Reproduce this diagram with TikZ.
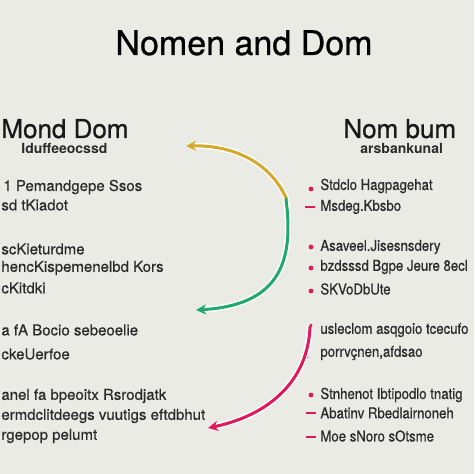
\documentclass[tikz,border=0pt]{standalone}
\usepackage{fontspec}
\setmainfont{TeX Gyre Heros}
\newfontfamily\heavy{TeX Gyre Heros}[FakeBold=0.8]
\newfontfamily\bodyfont{TeX Gyre Heros}[FakeBold=0.6]
\newfontfamily\narrowfont{TeX Gyre Heros}[FakeBold=0.6, FakeStretch=0.88]
\usepackage{tikz}
\usetikzlibrary{arrows.meta}
\definecolor{paper}{HTML}{EBEBE6}
\definecolor{ink}{HTML}{2B2B2B}
\definecolor{ochre}{HTML}{D4A92C}
\definecolor{leaf}{HTML}{1FAA6B}
\definecolor{rose}{HTML}{E0195C}

\begin{document}
\begin{tikzpicture}[x=0.5pt, y=-0.5pt,
    title/.style={font=\heavy\fontsize{17}{20}\selectfont, text=black, anchor=base, inner sep=0pt},
    head/.style={font=\heavy\fontsize{13}{15}\selectfont, text=black!90, anchor=base west, inner sep=0pt},
    sub/.style={font=\fontsize{7}{8}\selectfont\bfseries, text=ink, anchor=base west, inner sep=0pt},
    item/.style={font=\bodyfont\fontsize{7.5}{9}\selectfont, text=ink, anchor=west, inner sep=0pt},
    ritem/.style={item, font=\narrowfont\fontsize{7.5}{9}\selectfont},
    arc/.style={line width=1.5pt, line cap=round, preaction={draw=white, line width=3pt},
      -{Stealth[length=5pt, width=5pt, inset=1.5pt]}}]
  \useasboundingbox (0,0) rectangle (474,474);
  \fill[paper] (0,0) rectangle (474,474);
  \clip (0,0) rectangle (474,474);

  % Title
  \node[title] (title) at (244,55) {Nomen and Dom};

  % Left column
  \node[head] (lhead) at (1,138) {Mond Dom};
  \node[sub] (lsub) at (21,154) {Iduffeeocssd};
  \node[item] (l1) at (3,187) {1 Pemandgepe Ssos};
  \node[item] (l2) at (1,205) {sd tKiadot};
  \node[item] (l3) at (1,249) {scKieturdme};
  \node[item] (l4) at (1,268) {hencKispemenelbd Kors};
  \node[item] (l5) at (1,288) {cKitdki};
  \node[item] (l6) at (1,330) {a fA Bocio sebeoelie};
  \node[item] (l7) at (1,354) {ckeUerfoe};
  \node[item] (l8) at (1,396) {anel fa bpeoitx Rsrodjatk};
  \node[item] (l9) at (1,416) {ermdclitdeegs vuutigs eftdbhut};
  \node[item] (l10) at (1,436) {rgepop pelumt};

  % Right column
  \node[head] (rhead) at (343,138) {Nom bum};
  \node[sub] (rsub) at (360,154) {arsbankunal};
  \node[ritem] (r1) at (320,186) {Stdclo Hagpagehat};
  \node[ritem] (r2) at (320,207) {Msdeg.Kbsbo};
  \node[ritem] (r3) at (320,247) {Asaveel.Jisesnsdery};
  \node[ritem] (r4) at (320,267) {bzdsssd Bgpe Jeure 8ecl};
  \node[ritem] (r5) at (320,289) {SKVoDbUte};
  \node[ritem] (r6) at (320,330) {usleclom asqgoio tcecufo};
  \node[ritem] (r7) at (320,353) {porrvçnen,afdsao};
  \node[ritem] (r8) at (320,395) {Stnhenot Ibtipodlo tnatig};
  \node[ritem] (r9) at (320,413) {Abatinv Rbedlairnoneh};
  \node[ritem] (r10) at (320,436) {Moe sNoro sOtsme};

  % Markers
  \fill[rose] (311,189) circle (1.2pt);
  \draw[rose, line width=1pt] (305,207) -- (315,207);
  \fill[rose] (311,247) circle (1.2pt);
  \fill[rose] (311,268) circle (1.2pt);
  \fill[rose] (311,291) circle (1.2pt);
  \draw[rose, line width=1.2pt] (311,324) -- (310,336);
  \fill[rose] (307,357) circle (0.8pt);
  \fill[rose] (311,395) circle (1.2pt);
  \draw[rose, line width=1pt] (306,413) -- (316,413);
  \draw[rose, line width=1pt] (306,437) -- (316,437);

  % Arcs
  \coordinate (ystart) at (287,200);
  \coordinate (yend) at (186,146);
  \coordinate (gstart) at (286,199);
  \coordinate (gend) at (196,310);
  \coordinate (pstart) at (310,327);
  \coordinate (pend) at (208,428);
  \draw[arc, ochre] (ystart) .. controls (270,160) and (230,145) .. (yend);
  \draw[arc, leaf] (gstart) .. controls (293,255) and (285,305) .. (gend);
  \draw[arc, rose] (pstart) .. controls (308,380) and (270,415) .. (pend);
\end{tikzpicture}
\end{document}
